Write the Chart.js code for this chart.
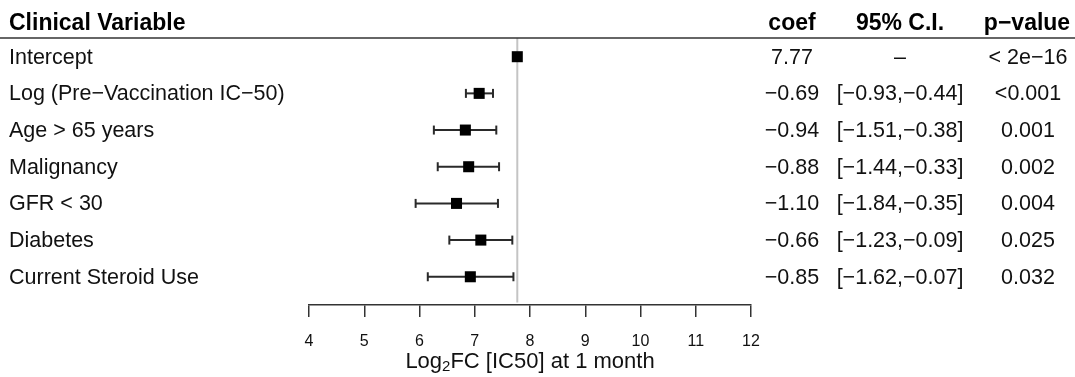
<!DOCTYPE html>
<html><head><meta charset="utf-8">
<script src="https://cdn.jsdelivr.net/npm/chart.js@4/dist/chart.umd.min.js"></script>
<style>html,body{margin:0;padding:0;background:#fff}</style>
</head><body>
<canvas id="c" width="1075" height="377" style="width:1075px;height:377px;display:block"></canvas>
<script>
const variables = ["Intercept", "Log (Pre\u2212Vaccination IC\u221250)", "Age > 65 years", "Malignancy", "GFR < 30", "Diabetes", "Current Steroid Use"];
const estimates = [7.77, 7.08, 6.83, 6.89, 6.67, 7.11, 6.92];
const ciLower = [null, 6.84, 6.26, 6.33, 5.93, 6.54, 6.15];
const ciUpper = [null, 7.33, 7.39, 7.44, 7.42, 7.68, 7.70];
const coefText = ["7.77", "\u22120.69", "\u22120.94", "\u22120.88", "\u22121.10", "\u22120.66", "\u22120.85"];
const ciText = ["\u2013", "[\u22120.93,\u22120.44]", "[\u22121.51,\u22120.38]", "[\u22121.44,\u22120.33]", "[\u22121.84,\u22120.35]", "[\u22121.23,\u22120.09]", "[\u22121.62,\u22120.07]"];
const pText = ["< 2e\u221216", "<0.001", "0.001", "0.002", "0.004", "0.025", "0.032"];
const headers = ["Clinical Variable", "coef", "95% C.I.", "p\u2212value"];
const xTicks = [4, 5, 6, 7, 8, 9, 10, 11, 12];
const referenceLine = 7.77;

const FONT = "'Liberation Sans', Arial, Helvetica, sans-serif";
const rowIdx = variables.map((_, i) => i);

const datasets = [];
datasets.push({
  type: 'line', order: 3, data: [{x: referenceLine, y: -0.51}, {x: referenceLine, y: 6.7}],
  borderColor: '#c4c4c4', borderWidth: 2, pointRadius: 0, showLine: true
});
rowIdx.forEach(i => {
  if (ciLower[i] === null) return;
  datasets.push({
    type: 'line', order: 2, data: [{x: ciLower[i], y: i}, {x: ciUpper[i], y: i}],
    borderColor: '#2a2a2a', borderWidth: 2, showLine: true,
    pointStyle: 'line', rotation: 90, pointRadius: 4.5,
    pointBorderColor: '#2a2a2a', pointBorderWidth: 2
  });
});
datasets.push({
  type: 'scatter', order: 1, data: rowIdx.map(i => ({x: estimates[i], y: i})),
  pointStyle: 'rect', pointRadius: 7.8, backgroundColor: '#000', borderWidth: 0
});

const textPlugin = {
  id: 'forestText',
  afterDraw(chart) {
    const ctx = chart.ctx, ys = chart.scales.y, area = chart.chartArea;
    ctx.save();
    ctx.strokeStyle = '#333'; ctx.lineWidth = 1.5;
    ctx.beginPath(); ctx.moveTo(0, area.top); ctx.lineTo(1075, area.top); ctx.stroke();
    ctx.fillStyle = '#000';
    ctx.textBaseline = 'alphabetic';
    ctx.font = 'bold 23px ' + FONT;
    ctx.textAlign = 'left'; ctx.fillText(headers[0], 9, 30);
    ctx.textAlign = 'center';
    ctx.fillText(headers[1], 792, 30);
    ctx.fillText(headers[2], 900, 30);
    ctx.fillText(headers[3], 1027, 30);
    ctx.font = '21.5px ' + FONT;
    ctx.fillStyle = '#111';
    ctx.textBaseline = 'middle';
    rowIdx.forEach(i => {
      const y = ys.getPixelForValue(i) + 1;
      ctx.textAlign = 'left'; ctx.fillText(variables[i], 9, y);
      ctx.textAlign = 'center';
      ctx.fillText(coefText[i], 792, y);
      ctx.fillText(ciText[i], 900, y);
      ctx.fillText(pText[i], 1028, y);
    });
    ctx.textBaseline = 'alphabetic';
    const big = '22px ' + FONT, small = '15px ' + FONT;
    const p1 = 'Log', p2 = '2', p3 = 'FC [IC50] at 1 month';
    ctx.font = big; const w1 = ctx.measureText(p1).width, w3 = ctx.measureText(p3).width;
    ctx.font = small; const w2 = ctx.measureText(p2).width;
    const cx = (area.left + area.right) / 2;
    let x = cx - (w1 + w2 + w3) / 2; const by = 368;
    ctx.textAlign = 'left';
    ctx.font = big; ctx.fillText(p1, x, by); x += w1;
    ctx.font = small; ctx.fillText(p2, x, by + 3); x += w2;
    ctx.font = big; ctx.fillText(p3, x, by);
    ctx.restore();
  }
};

new Chart(document.getElementById('c'), {
  type: 'scatter',
  data: { datasets },
  options: {
    responsive: false, animation: false,
    layout: { padding: { left: 309, right: 324, top: 38, bottom: 0 } },
    plugins: { legend: { display: false }, tooltip: { enabled: false } },
    scales: {
      x: {
        type: 'linear', position: 'bottom', min: 4, max: 12,
        afterBuildTicks: s => { s.ticks = xTicks.map(v => ({ value: v })); },
        afterFit: s => { s.height = 72; },
        ticks: { font: { size: 16, family: FONT }, color: '#111', padding: 15, maxRotation: 0 },
        grid: { drawOnChartArea: false, drawTicks: true, tickLength: 12, color: '#333', lineWidth: 1.5 },
        border: { display: true, color: '#333', width: 1.5 }
      },
      y: { type: 'linear', reverse: true, min: -0.51, max: 6.77, display: false }
    }
  },
  plugins: [textPlugin]
});
</script>
</body></html>
